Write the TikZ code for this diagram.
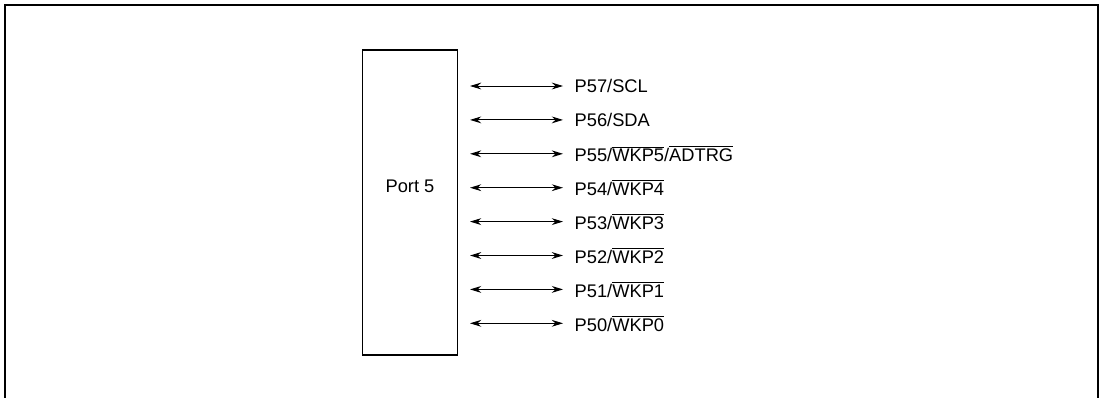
\documentclass[tikz,border=0pt]{standalone}
\usepackage{fontspec}
\setmainfont{Liberation Sans}
\usetikzlibrary{arrows.meta,positioning}
\newcommand{\ovl}[1]{$\overline{\mbox{#1}}$}

\begin{document}
\begin{tikzpicture}[x=0.025cm, y=-0.025cm,
    pin/.style={anchor=west, inner sep=1pt, font=\fontsize{13}{15}\selectfont},
    bus/.style={line width=0.7pt, {Stealth[length=2.8mm,width=1.7mm]}-{Stealth[length=2.8mm,width=1.7mm]}}]
    \useasboundingbox (0,0) rectangle (1102,397);
    % outer frame (open at the bottom)
    \draw[line width=1.9pt] (5,400) -- (5,5) -- (1098,5) -- (1098,400);

    % port block
    \node[draw, line width=1.4pt, minimum width=95*0.025cm, minimum height=305*0.025cm,
          inner sep=0pt] (port) at (410,202.5) {};
    \node[font=\fontsize{13}{15}\selectfont] (portlbl) at (410,186) {Port 5};

    % pins
    \foreach \lbl [count=\i from 0] in {P57/SCL, P56/SDA, P55/\ovl{WKP5}/\ovl{ADTRG},
        P54/\ovl{WKP4}, P53/\ovl{WKP3}, P52/\ovl{WKP2}, P51/\ovl{WKP1}, P50/\ovl{WKP0}}
    {
      \coordinate (a\i) at (470,86+33.9*\i);
      \node[pin] (p\i) at (573,86+33.9*\i) {\lbl};
      \draw[bus] (a\i) -- ([xshift=-10*0.025cm]p\i.west);
    }
\end{tikzpicture}
\end{document}
